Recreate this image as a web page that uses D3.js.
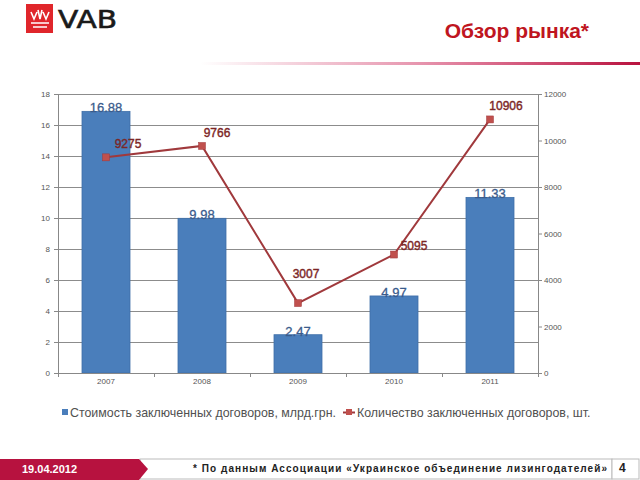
<!DOCTYPE html>
<html><head><meta charset="utf-8">
<script src="https://cdn.jsdelivr.net/npm/d3@7"></script>
<style>html,body{margin:0;padding:0;background:#fff;}svg{display:block;}</style>
</head><body>
<svg id="c" width="640" height="480"></svg>
<script>
const years = ["2007","2008","2009","2010","2011"];
const valueBln = [16.88, 9.98, 2.47, 4.97, 11.33];
const contractCount = [9275, 9766, 3007, 5095, 10906];
const leftTicks = [0,2,4,6,8,10,12,14,16,18];
const rightTicks = [0,2000,4000,6000,8000,10000,12000];
const legendLabels = ["Стоимость заключенных договоров, млрд.грн.", "Количество заключенных договоров, шт."];
const titleText = "Обзор рынка*";
const footnote = "* По данным Ассоциации «Украинское объединение лизингодателей»";
const dateText = "19.04.2012";
const pageNum = "4";

const svg = d3.select("#c");
const F = "'Liberation Sans', Arial, sans-serif";

// header
const defs = svg.append("defs");
const g1 = defs.append("linearGradient").attr("id","hl").attr("x1","0").attr("x2","1");
g1.append("stop").attr("offset","0").attr("stop-color","#c8124a").attr("stop-opacity",0);
g1.append("stop").attr("offset","0.5").attr("stop-color","#c8124a").attr("stop-opacity",0.45);
g1.append("stop").attr("offset","1").attr("stop-color","#b8123e").attr("stop-opacity",1);
svg.append("rect").attr("x",200).attr("y",62).attr("width",440).attr("height",3).attr("fill","url(#hl)");

// logo
svg.append("rect").attr("x",26).attr("y",4).attr("width",27).attr("height",29).attr("fill","#e0262b");
const lg = svg.append("g").attr("fill","none").attr("stroke","#fff").attr("stroke-width",1.6);
lg.append("path").attr("d","M31 12 L34 19 L37 12 M38 10 L40 19 L42 10 M43 12 L46 19 L49 12");
lg.append("path").attr("d","M31 23 L49 23 M33 27 L47 27");
svg.append("text").attr("x",58).attr("y",27.5).attr("font-family","'DejaVu Sans', sans-serif")
  .attr("font-size",24).attr("fill","#1a1a1a").attr("stroke","#1a1a1a").attr("stroke-width",0.6)
  .attr("textLength",59).attr("lengthAdjust","spacingAndGlyphs").text("VAB");

svg.append("text").attr("x",589).attr("y",38).attr("text-anchor","end").attr("font-family",F)
  .attr("font-size",21).attr("font-weight","bold").attr("fill","#bf1520").text(titleText);

// chart
const L = 58, R = 538, T = 94, B = 373;
const x = d3.scaleBand().domain(years).range([L,R]).paddingInner(0.5).paddingOuter(0.25);
const yL = d3.scaleLinear().domain([0,18]).range([B,T]);
const yR = d3.scaleLinear().domain([0,12000]).range([B,T]);

// gridlines
svg.append("g").selectAll("line").data(leftTicks.filter(d=>d>0)).join("line")
  .attr("x1",L).attr("x2",R).attr("y1",d=>yL(d)).attr("y2",d=>yL(d))
  .attr("stroke","#8c8c8c").attr("stroke-width",1).attr("shape-rendering","crispEdges");

// bars
svg.append("g").selectAll("rect").data(years).join("rect")
  .attr("x",d=>x(d)).attr("width",x.bandwidth())
  .attr("y",(d,i)=>yL(valueBln[i])).attr("height",(d,i)=>B-yL(valueBln[i]))
  .attr("fill","#4a7ebb").attr("stroke","#3f6fa8").attr("stroke-width",0.8);

// axes
const axL = svg.append("g").attr("transform",`translate(${L},0)`)
  .call(d3.axisLeft(yL).tickValues(leftTicks).tickSize(4).tickPadding(4).tickFormat(d3.format("d")));
const axR = svg.append("g").attr("transform",`translate(${R},0)`)
  .call(d3.axisRight(yR).tickValues(rightTicks).tickSize(4).tickPadding(2).tickFormat(d3.format("d")));
const xb = d3.scaleLinear().domain([0,5]).range([L,R]);
const axX = svg.append("g").attr("transform",`translate(0,${B})`)
  .call(d3.axisBottom(xb).tickValues([0,1,2,3,4,5]).tickSize(4).tickFormat(""));
svg.append("g").selectAll("text").data(years).join("text")
  .attr("x",d=>x(d)+x.bandwidth()/2).attr("y",B+11).attr("text-anchor","middle")
  .attr("font-family",F).attr("font-size",8).attr("fill","#555").text(d=>d);
[axL,axR,axX].forEach(a=>{
  a.select(".domain").attr("stroke","#888");
  a.selectAll(".tick line").attr("stroke","#888");
  a.selectAll("text").attr("font-family",F).attr("font-size",8).attr("fill","#555");
});

// line
const cx = d=>x(d)+x.bandwidth()/2;
const line = d3.line().x((d,i)=>cx(years[i])).y(d=>yR(d));
svg.append("path").datum(contractCount).attr("d",line).attr("fill","none")
  .attr("stroke","#a0393c").attr("stroke-width",2);
svg.append("g").selectAll("rect").data(contractCount).join("rect")
  .attr("x",(d,i)=>cx(years[i])-3.5).attr("y",d=>yR(d)-3.5).attr("width",7).attr("height",7)
  .attr("fill","#c0504d").attr("stroke","#a0393c").attr("stroke-width",0.5);

// bar labels
svg.append("g").selectAll("text").data(valueBln).join("text")
  .attr("x",(d,i)=>cx(years[i])).attr("y",d=>yL(d)+1).attr("text-anchor","middle")
  .attr("font-family",F).attr("font-size",13).attr("fill","#3a5b8c")
  .attr("stroke","#3a5b8c").attr("stroke-width",0.3).text(d=>d.toFixed(2));

// line labels
const offs = [[22,-9],[15,-9],[8,-25],[20,-5],[16,-9]];
svg.append("g").selectAll("text").data(contractCount).join("text")
  .attr("x",(d,i)=>cx(years[i])+offs[i][0]).attr("y",(d,i)=>yR(d)+offs[i][1]).attr("text-anchor","middle")
  .attr("font-family",F).attr("font-size",12).attr("fill","#7c2626")
  .attr("stroke","#7c2626").attr("stroke-width",0.4).text(d=>d);

// legend
svg.append("rect").attr("x",62).attr("y",409).attr("width",6).attr("height",6).attr("fill","#4a7ebb");
svg.append("text").attr("x",70).attr("y",417).attr("font-family",F).attr("font-size",12.4).attr("fill","#505050").text(legendLabels[0]);
svg.append("line").attr("x1",343).attr("x2",355).attr("y1",412.5).attr("y2",412.5).attr("stroke","#a0393c").attr("stroke-width",2);
svg.append("rect").attr("x",346).attr("y",409).attr("width",6).attr("height",6).attr("fill","#c0504d");
svg.append("text").attr("x",357).attr("y",417).attr("font-family",F).attr("font-size",12.4).attr("fill","#505050").text(legendLabels[1]);

// footer
svg.append("rect").attr("x",140).attr("y",459).attr("width",472).attr("height",20).attr("fill","#fff").attr("stroke","#bbb");
svg.append("rect").attr("x",612).attr("y",459).attr("width",27).attr("height",20).attr("fill","#fff").attr("stroke","#bbb");
svg.append("path").attr("d","M0 459 L139 459 L148 469 L139 480 L0 480 Z").attr("fill","#b7123f");
svg.append("text").attr("x",22).attr("y",473).attr("font-family",F).attr("font-size",11).attr("font-weight","bold").attr("fill","#fff").text(dateText);
svg.append("text").attr("x",193).attr("y",472).attr("font-family",F).attr("font-size",10).attr("font-weight","bold").attr("fill","#222")
  .attr("textLength",414).attr("lengthAdjust","spacing").text(footnote);
svg.append("text").attr("x",619).attr("y",472).attr("font-family",F).attr("font-size",12).attr("font-weight","bold").attr("fill","#222").text(pageNum);
</script>
</body></html>
